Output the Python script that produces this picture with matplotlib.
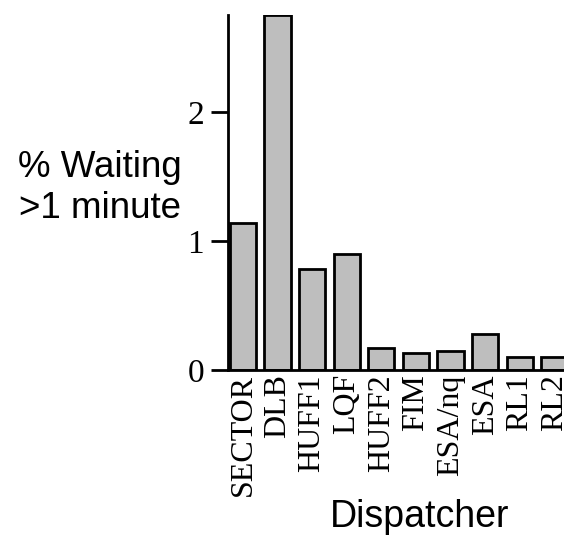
import matplotlib
matplotlib.use("Agg")
import matplotlib.pyplot as plt

categories = ["SECTOR", "DLB", "HUFF1", "LQF", "HUFF2", "FIM", "ESA/nq", "ESA", "RL1", "RL2"]
values = [1.14, 2.75, 0.78, 0.90, 0.17, 0.13, 0.15, 0.28, 0.10, 0.10]
yticks = [0, 1, 2]

W, H = 564, 541
fig = plt.figure(figsize=(W / 100, H / 100), dpi=100)
left = 227.7 / W
bottom = 1 - 370 / H
top = 1 - 15 / H
unit = 34.6
xmin, xmax = -0.44, 9.5
width = (xmax - xmin) * unit / W
ax = fig.add_axes([left, bottom, width, top - bottom])

x = list(range(len(categories)))
ax.bar(x, values, width=0.76, color="#bebebe", edgecolor="black", linewidth=2.0, zorder=2)
ax.set_xlim(xmin, xmax)
ax.set_ylim(0, max(values))

for s in ["top", "right"]:
    ax.spines[s].set_visible(False)
ax.spines["left"].set_linewidth(2.0)
ax.spines["bottom"].set_linewidth(2.0)
ax.spines["bottom"].set_zorder(3)

serif = "Liberation Serif"
ax.set_yticks(yticks)
ax.set_yticklabels([str(t) for t in yticks], family=serif, fontsize=24)
ax.tick_params(axis="y", length=12, width=2.0, pad=5)
ax.set_xticks(x)
ax.set_xticklabels(categories, family=serif, fontsize=23, rotation=90)
ax.tick_params(axis="x", length=0, pad=3)

fig.text(100 / W, 1 - 188 / H, "% Waiting\n>1 minute", ha="center", va="center",
         multialignment="center", family="Liberation Sans", fontsize=26.5, linespacing=1.2)
fig.text(420 / W, 1 - 527 / H, "Dispatcher", ha="center", va="baseline",
         family="Liberation Sans", fontsize=27)

fig.savefig("out.png", dpi=100)
